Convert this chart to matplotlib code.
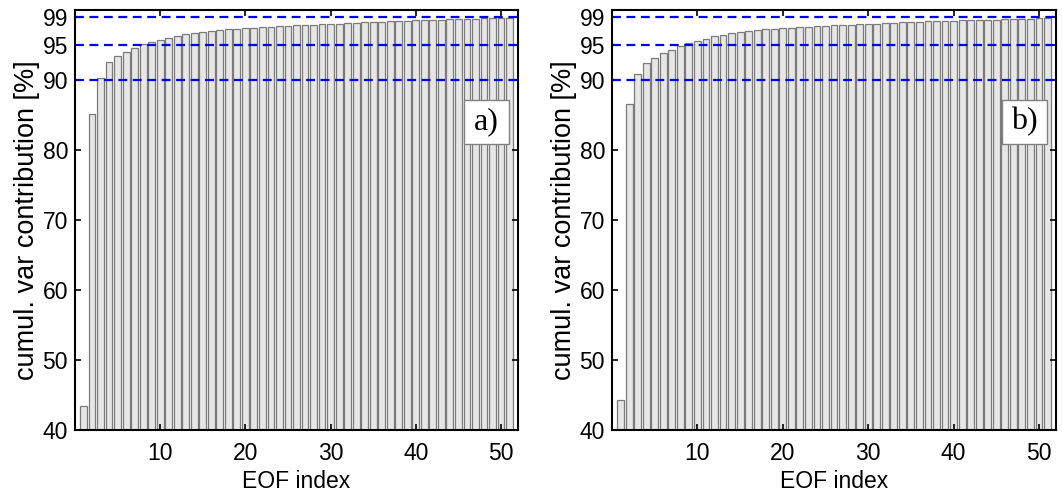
import numpy as np
import matplotlib
matplotlib.use("Agg")
import matplotlib.pyplot as plt
from matplotlib.patches import Rectangle

plt.rcParams['font.family'] = ['Liberation Sans', 'DejaVu Sans']

# cumulative explained variance [%] per EOF index
eof_idx = np.arange(1, 52)
cum_a = [43.4, 85.1, 90.3, 92.6, 93.4, 94.0, 94.6, 95.1, 95.4, 95.7,
         96.0, 96.3, 96.5, 96.7, 96.8, 97.0, 97.1, 97.2, 97.3, 97.4,
         97.45, 97.5, 97.6, 97.7, 97.75, 97.8, 97.85, 97.9, 97.95, 98.0,
         98.05, 98.1, 98.15, 98.2, 98.25, 98.3, 98.35, 98.4, 98.45, 98.5,
         98.55, 98.6, 98.62, 98.65, 98.7, 98.72, 98.75, 98.78, 98.8, 98.82,
         98.85]
cum_b = [44.3, 86.6, 90.9, 92.4, 93.1, 93.8, 94.3, 94.8, 95.3, 95.6,
         95.9, 96.2, 96.4, 96.7, 96.8, 97.0, 97.1, 97.2, 97.3, 97.4,
         97.45, 97.5, 97.6, 97.65, 97.7, 97.8, 97.85, 97.9, 97.95, 98.0,
         98.05, 98.1, 98.15, 98.2, 98.25, 98.3, 98.35, 98.4, 98.42, 98.45,
         98.5, 98.52, 98.55, 98.6, 98.62, 98.65, 98.7, 98.72, 98.75, 98.78,
         98.8]
thresholds = [90, 95, 99]
yticks = [40, 50, 60, 70, 80, 90, 95, 99]
xticks = [10, 20, 30, 40, 50]
panel_labels = ["a)", "b)"]

fig = plt.figure(figsize=(10.62, 4.94), dpi=100)
ax_a = fig.add_axes([0.0706, 0.1296, 0.4172, 0.8504])
ax_b = fig.add_axes([0.5763, 0.1296, 0.4181, 0.8504])

for ax, vals, lab in zip([ax_a, ax_b], [cum_a, cum_b], panel_labels):
    ax.bar(eof_idx, vals, width=0.8, color='#e6e6e6', edgecolor='#7a7a7a',
           linewidth=0.9, zorder=1)
    for t in thresholds:
        ax.axhline(t, color='#0000ee', linestyle=(0, (4, 2.5)), linewidth=1.6, zorder=2)
    ax.set_xlim(0, 52)
    ax.set_ylim(40, 100)
    ax.set_yticks(yticks)
    ax.set_xticks(xticks)
    ax.tick_params(direction='in', top=True, right=True, labelsize=16.5,
                   length=4, width=1.2)
    ax.tick_params(axis='x', pad=9)
    ax.tick_params(axis='y', pad=5)
    for s in ax.spines.values():
        s.set_linewidth(1.5)
    ax.set_xlabel("EOF index", fontsize=16.5, labelpad=3)
    ax.set_ylabel("cumul. var contribution [%]", fontsize=19.5, labelpad=2)
    # panel letter box
    ax.add_patch(Rectangle((0.878, 0.681), 0.102, 0.105, transform=ax.transAxes,
                           facecolor='white', edgecolor='#808080', linewidth=1.0, zorder=3))
    ax.text(0.929, 0.733, lab, transform=ax.transAxes, ha='center', va='center',
            fontsize=23, family=['Liberation Serif', 'DejaVu Serif'], zorder=4)

fig.savefig("out.png", dpi=100)
